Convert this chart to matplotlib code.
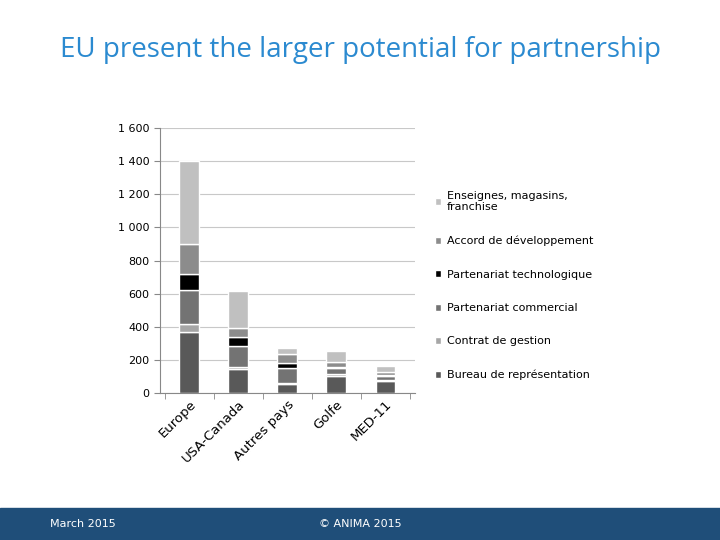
import matplotlib
matplotlib.use("Agg")
import matplotlib.pyplot as plt
from matplotlib.patches import Rectangle
import numpy as np

categories = ["Europe", "USA-Canada", "Autres pays", "Golfe", "MED-11"]
series_names = ["Bureau de représentation", "Contrat de gestion", "Partenariat commercial",
                "Partenariat technologique", "Accord de développement", "Enseignes, magasins,\nfranchise"]
bureau = [370, 145, 58, 101, 71]
contrat = [50, 12, 2, 12, 8]
commercial = [200, 125, 91, 36, 26]
techno = [100, 55, 31, 10, 3]
dev = [180, 58, 52, 27, 20]
enseignes = [500, 224, 40, 70, 38]
colors = ["#595959", "#a6a6a6", "#737373", "#000000", "#8c8c8c", "#c0c0c0"]
yticks = [0, 200, 400, 600, 800, 1000, 1200, 1400, 1600]
ytick_labels = ["0", "200", "400", "600", "800", "1 000", "1 200", "1 400", "1 600"]

fig = plt.figure(figsize=(7.2, 5.4), dpi=100)
fig.patch.set_facecolor("white")
fig.text(0.5, 0.895, "EU present the larger potential for partnership", ha="center",
         fontsize=20, color="#2b8ad0", family="Open Sans")

ax = fig.add_axes([0.222, 0.272, 0.354, 0.491])
x = np.arange(len(categories))
bottom = np.zeros(len(categories))
handles = []
for name, vals, c in zip(series_names, [bureau, contrat, commercial, techno, dev, enseignes], colors):
    h = ax.bar(x, vals, 0.4, bottom=bottom, color=c, edgecolor="white", linewidth=1, label=name)
    handles.append(h)
    bottom += np.array(vals)
ax.set_xlim(-0.6, 4.6)
ax.set_ylim(0, 1600)
ax.set_yticks(yticks)
ax.set_yticklabels(ytick_labels, fontsize=8)
ax.set_xticks(x)
ax.set_xticklabels(categories, rotation=45, ha="right", rotation_mode="anchor", fontsize=9.5)
ax.set_xticks(np.arange(-0.5, 5, 1), minor=True)
ax.tick_params(axis="x", which="major", length=0)
ax.tick_params(axis="x", which="minor", length=4, color="#888888")
ax.tick_params(axis="y", length=4, color="#888888")
ax.yaxis.grid(True, color="#c8c8c8", linewidth=0.8)
ax.set_axisbelow(True)
for s in ["top", "right"]:
    ax.spines[s].set_visible(False)
ax.spines["left"].set_color("#888888")
ax.spines["bottom"].set_color("#888888")

fig.legend(handles[::-1], series_names[::-1], loc="upper left", bbox_to_anchor=(0.59, 0.665),
           frameon=False, fontsize=8, handlelength=0.6, handleheight=0.6, labelspacing=2.1,
           handletextpad=0.5)

fig.add_artist(Rectangle((0, 0), 1, 0.059, transform=fig.transFigure, color="#1f4e79"))
fig.text(0.07, 0.029, "March 2015", color="white", fontsize=8, va="center")
fig.text(0.5, 0.029, "© ANIMA 2015", color="white", fontsize=8, va="center", ha="center")
fig.savefig("out.png", dpi=100)
